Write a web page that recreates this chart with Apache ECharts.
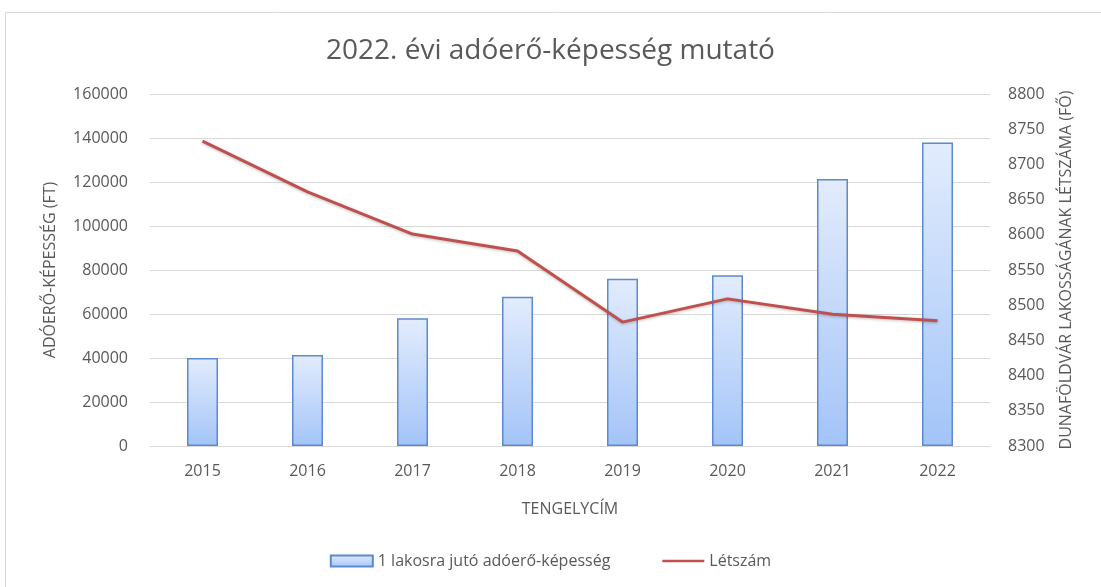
<!DOCTYPE html>
<html><head><meta charset="utf-8">
<script src="https://cdn.jsdelivr.net/npm/echarts@6/dist/echarts.min.js"></script>
<style>html,body{margin:0;padding:0;background:#fff}#c{width:1101px;height:587px}</style>
</head><body><div id="c"></div>
<script>
const years = ['2015','2016','2017','2018','2019','2020','2021','2022'];
const adoero = [40000, 41400, 58100, 67800, 76000, 77600, 121400, 138000];
const letszam = [8733, 8661, 8601, 8577, 8476, 8509, 8487, 8478];
const titleText = '2022. évi adóerő-képesség mutató';
const barName = '1 lakosra jutó adóerő-képesség';
const lineName = 'Létszám';
const leftAxisName = 'ADÓERŐ-KÉPESSÉG (FT)';
const rightAxisName = 'DUNAFÖLDVÁR LAKOSSÁGÁNAK LÉTSZÁMA (FŐ)';
const xAxisName = 'TENGELYCÍM';

const font = '"Open Sans", "Liberation Sans", sans-serif';
const grey = '#595959';
const fs = 16;
const chart = echarts.init(document.getElementById('c'));
chart.setOption({
  animation: false,
  textStyle: {fontFamily: font},
  graphic: [{type:'rect', shape:{x:5.5,y:12.5,width:1200,height:700}, style:{fill:'none', stroke:'#d9d9d9', lineWidth:1}, silent:true}],
  title: {text: titleText, left: 'center', top: 32, textStyle:{fontFamily:font, fontSize:28, fontWeight:'normal', color:grey}},
  legend: {top: 548, left: 'center', itemGap: 52, itemWidth: 42, itemHeight: 11,
    textStyle:{fontFamily:font, fontSize:fs, color:grey},
    data: [{name: barName, icon:'rect'},
           {name: lineName, icon:'path://M0,0 L0.5,0 L0.5,0.01 L0,0.01 Z M0,4.2 L42,4.2 L42,6.8 L0,6.8 Z M0,10.99 L0.5,10.99 L0.5,11 L0,11 Z'}]},
  grid: {left: 150, right: 111, top: 94, bottom: 141},
  xAxis: {type:'category', data: years, name: xAxisName, nameLocation:'middle', nameGap: 55,
    nameTextStyle:{fontFamily:font, fontSize:fs, color:grey},
    axisLine:{lineStyle:{color:'#d9d9d9'}}, axisTick:{show:false},
    axisLabel:{color:grey, fontSize:fs, margin:17, fontFamily:font}},
  yAxis: [
    {type:'value', min:0, max:160000, interval:20000, name:leftAxisName, nameLocation:'middle', nameGap:92, nameRotate:90,
      nameTextStyle:{fontFamily:font, fontSize:fs, color:grey},
      axisLabel:{color:grey, fontSize:fs, margin:22, fontFamily:font, formatter: v => String(v)},
      splitLine:{lineStyle:{color:'#d9d9d9'}}, axisLine:{show:false}, axisTick:{show:false}},
    {type:'value', min:8300, max:8800, interval:50, name:rightAxisName, nameLocation:'middle', nameGap:68, nameRotate:90,
      nameTextStyle:{fontFamily:font, fontSize:fs, color:grey},
      axisLabel:{color:grey, fontSize:fs, margin:18, fontFamily:font, formatter: v => String(v)},
      splitLine:{show:false}, axisLine:{show:false}, axisTick:{show:false}}
  ],
  series: [
    {name: barName, type:'bar', data: adoero, barWidth: 31, yAxisIndex:0,
      itemStyle:{borderColor:'#5b8ad0', borderWidth:1.5,
        color: new echarts.graphic.LinearGradient(0,0,0,1,[{offset:0,color:'#e2ecfd'},{offset:1,color:'#a3c4f8'}])}},
    {name: lineName, type:'line', data: letszam, yAxisIndex:1, symbol:'none',
      lineStyle:{color:'#c0504d', width:3, shadowColor:'rgba(0,0,0,0.25)', shadowBlur:3, shadowOffsetY:1},
      itemStyle:{color:'#c0504d'}}
  ]
});
</script></body></html>
